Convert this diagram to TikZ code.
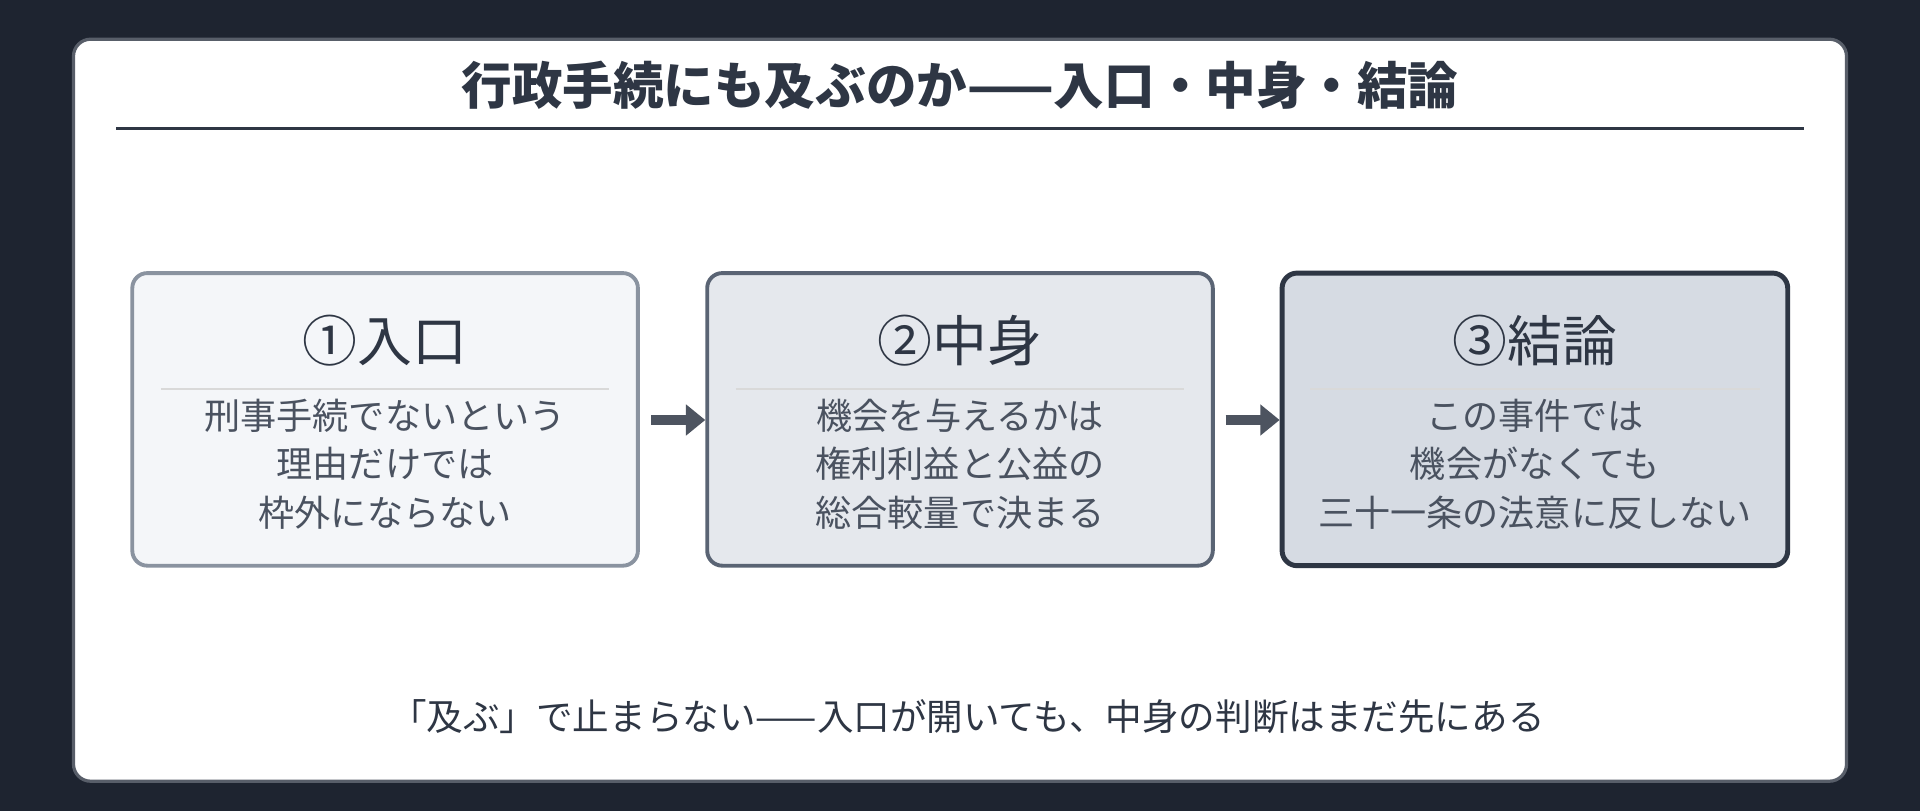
\documentclass[tikz,border=0pt]{standalone}
\usepackage{fontspec}
\setmainfont{Noto Sans CJK JP}
\usetikzlibrary{arrows.meta,positioning}
\definecolor{bgdark}{HTML}{1E2430}
\definecolor{inkdark}{HTML}{2E3644}
\definecolor{inkbody}{HTML}{4A5260}
\definecolor{fillA}{HTML}{F4F6F9}
\definecolor{fillB}{HTML}{E5E8ED}
\definecolor{fillC}{HTML}{D6DBE3}
\definecolor{edgeA}{HTML}{8A93A0}
\definecolor{edgeB}{HTML}{5A6474}
\tikzset{
  stage/.style={draw, rounded corners=7pt, minimum width=8.26cm, minimum height=4.78cm, line width=1.8pt},
  head/.style={font=\fontsize{25.5}{30}\selectfont, text=inkdark},
  body/.style={font=\fontsize{16.8}{22.5}\selectfont, text=inkbody, align=center},
  flowarrow/.style={-{Triangle[length=9pt,width=14pt]}, line width=5pt, draw=inkdark!85}
}
\begin{document}
\begin{tikzpicture}[x=0.02cm,y=-0.02cm]
\fill[bgdark] (0,0) rectangle (1568,662);
\useasboundingbox (0,0) rectangle (1568,662);
\draw[fill=white, draw=inkdark!80, line width=1.5pt, rounded corners=8pt] (60,32) rectangle (1508,638);
\node[font=\bfseries\fontsize{23.5}{28}\selectfont, text=inkdark] (title) at (784,70) {行政手続にも及ぶのか——入口・中身・結論};
\draw[inkdark, line width=1pt] (95,105) -- (1473,105);

% three stages
\node[stage, fill=fillA, draw=edgeA] (s1) at (314.5,342.5) {};
\node[stage, fill=fillB, draw=edgeB] (s2) at (784,342.5) {};
\node[stage, fill=fillC, draw=inkdark, line width=2.3pt] (s3) at (1253.5,342.5) {};

\foreach \s/\h in {s1/①入口, s2/②中身, s3/③結論}{
  \node[head] (\s h) at (\s |- 0,278) {\h};
  \draw[gray!30, line width=1pt] (\s.west |- 0,318) ++(25,0) -- ([xshift=-0.5cm]\s.east |- 0,318);
}
\node[body] (s1b) at (s1 |- 0,379) {刑事手続でないという\\理由だけでは\\枠外にならない};
\node[body] (s2b) at (s2 |- 0,379) {機会を与えるかは\\権利利益と公益の\\総合較量で決まる};
\node[body] (s3b) at (s3 |- 0,379) {この事件では\\機会がなくても\\三十一条の法意に反しない};

\coordinate (a1) at (532,343);
\coordinate (a2) at (1001,343);
\draw[flowarrow] (a1) -- (s2.west |- a1);
\draw[flowarrow] (a2) -- (s3.west |- a2);

\node[font=\fontsize{17}{20}\selectfont, text=inkdark] (note) at (790,585) {「及ぶ」で止まらない——入口が開いても、中身の判断はまだ先にある};
\end{tikzpicture}
\end{document}
